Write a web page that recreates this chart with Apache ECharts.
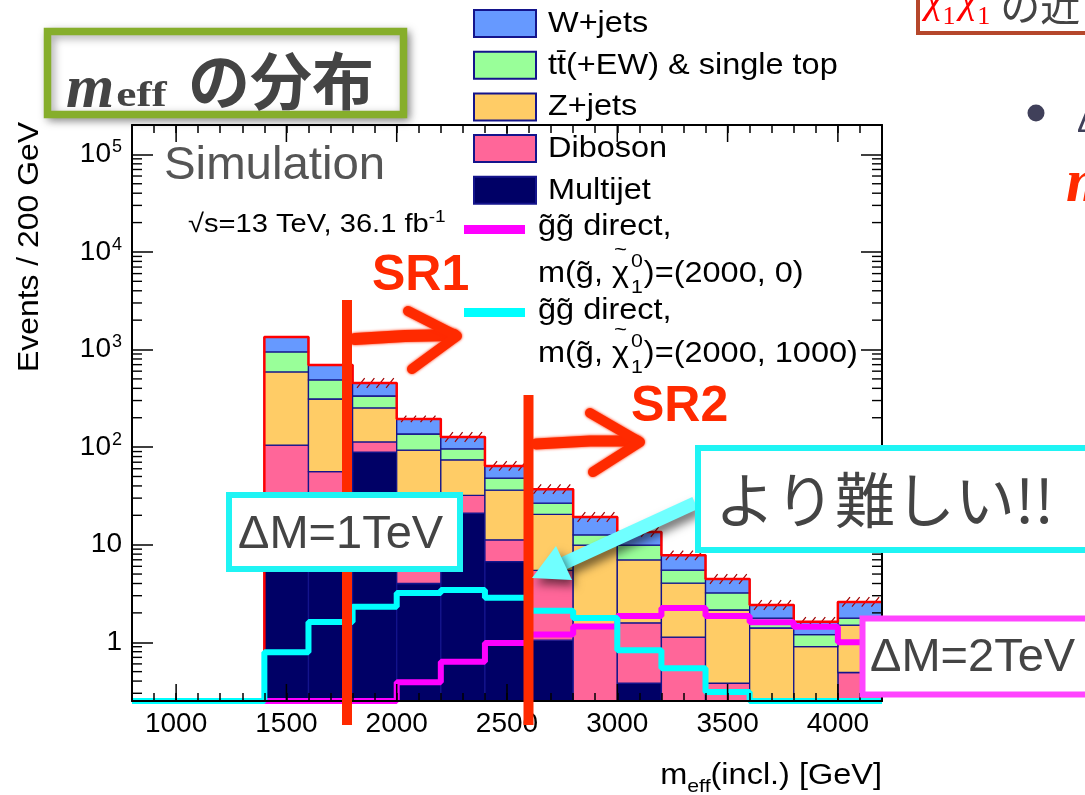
<!DOCTYPE html>
<html>
<head>
<meta charset="utf-8">
<script src="https://cdn.jsdelivr.net/npm/echarts@6/dist/echarts.min.js"></script>
<style>
  html, body { margin: 0; padding: 0; background: #ffffff; }
  #chart { width: 1085px; height: 795px; }
</style>
</head>
<body>
<div id="chart"></div>
<script>
// ---- histogram binning (GeV) ----
const BIN_EDGES = [1400, 1600, 1800, 2000, 2200, 2400, 2600, 2800, 3000, 3200, 3400, 3600, 3800, 4000, 4200];

// ---- background yields per 200 GeV bin (stack order: bottom -> top) ----
const MULTIJET = [18, 11, 89, 4.0, 21, 6.7, 1.05, 0, 0.38, 0, 0, 0, 0, 0];
const DIBOSON  = [87, 45, 24, 2.2, 11, 4.5, 4.4, 1.5, 1.2, 1.13, 0.38, 0, 0, 0.49];
const ZJETS    = [484, 255, 139, 87, 42, 25, 15, 8.4, 5.4, 2.9, 1.76, 1.40, 0.90, 1.01];
const TTBAR    = [355, 177, 82, 43, 22, 12, 6.2, 2.7, 2.9, 1.45, 1.06, 0.37, 0.30, 0.27];
const WJETS    = [399, 205, 120, 58, 31, 16, 10.4, 6.6, 3.6, 2.3, 1.25, 0.64, 0.42, 0.82];
// relative uncertainty of the total background (hatched band)
const TOTAL_REL_ERR = [0, 0, 0.12, 0.08, 0.12, 0.12, 0.12, 0.12, 0.12, 0.12, 0.12, 0.12, 0.12, 0.12];

// ---- signal yields ----
const SIG_2000_0    = [0, 0, 0, 0.39, 0.63, 0.98, 1.2, 1.45, 1.86, 2.25, 1.86, 1.6, 1.44, 1.0];
const SIG_2000_1000 = [0.79, 1.61, 2.31, 3.2, 3.43, 2.85, 2.1, 1.77, 0.83, 0.54, 0.31, 0, 0, 0];

// ---- axes ----
const X_TICK_LABELS = [1000, 1500, 2000, 2500, 3000, 3500, 4000];
const X_MIN = 800, X_MAX = 4200;
const Y_MIN = 0.25, Y_MAX = 2e5;

const FONT  = "'Liberation Sans', Arial, Helvetica, sans-serif";
const SERIF = "'Liberation Serif', 'DejaVu Serif', serif";
const JP    = "'Noto Sans CJK JP', sans-serif";
const GREY  = '#444444';
const RED   = '#ff2a00';
const WIDE  = 1.12;   // horizontal stretch of the plot lettering

const STACK = [
  { name: 'Multijet', values: MULTIJET, color: '#000066' },
  { name: 'Diboson', values: DIBOSON, color: '#ff6699' },
  { name: 'Z+jets', values: ZJETS, color: '#ffcc66' },
  { name: 'tt\u0304(+EW) & single top', values: TTBAR, color: '#99ff99' },
  { name: 'W+jets', values: WJETS, color: '#6699ff' }
];

// ---- stacked histogram as rectangles ----
const cum = BIN_EDGES.slice(0, -1).map(() => 0);
const stackSeries = STACK.map(comp => {
  const data = [];
  comp.values.forEach((v, i) => {
    const lo = cum[i], hi = lo + v;
    cum[i] = hi;
    if (v > 0 && hi > Y_MIN) data.push([BIN_EDGES[i], BIN_EDGES[i + 1], Math.max(lo, Y_MIN), hi]);
  });
  return {
    type: 'custom', name: comp.name, z: 2, silent: true,
    encode: { x: [0, 1], y: [2, 3] },
    data,
    renderItem(params, api) {
      const a = api.coord([api.value(0), api.value(3)]);
      const b = api.coord([api.value(1), api.value(2)]);
      return {
        type: 'rect',
        shape: { x: a[0], y: a[1], width: b[0] - a[0], height: b[1] - a[1] },
        style: { fill: comp.color, stroke: '#14148c', lineWidth: 1.3 }
      };
    }
  };
});
const TOTAL = cum.slice();

// hatched uncertainty marks around the total
const hatchSeries = {
  type: 'custom', z: 3, silent: true,
  encode: { x: [0, 1], y: 2 },
  data: TOTAL.map((t, i) => [BIN_EDGES[i], BIN_EDGES[i + 1], t, TOTAL_REL_ERR[i]]).filter(d => d[3] > 0),
  renderItem(params, api) {
    const x0 = api.value(0), x1 = api.value(1), t = api.value(2), e = api.value(3);
    const pT = api.coord([x0, t * (1 + e)]);
    const pB = api.coord([x1, t / (1 + e)]);
    const w = pB[0] - pT[0], h = pB[1] - pT[1];
    const children = [];
    for (let k = 0; k < 4; k++) {
      const xs = pT[0] + w * (0.1 + k * 0.22);
      children.push({ type: 'line', shape: { x1: xs, y1: pB[1], x2: xs + h * 0.8, y2: pT[1] },
        style: { stroke: '#a00000', lineWidth: 1.2 } });
    }
    return { type: 'group', children };
  }
};

// step data for line series: value held from each left edge to the next
function stepData(values, startAt) {
  const d = [[startAt, Y_MIN]];
  values.forEach((v, i) => d.push([BIN_EDGES[i], Math.max(v, Y_MIN)]));
  d.push([BIN_EDGES[BIN_EDGES.length - 1], Math.max(values[values.length - 1], Y_MIN)]);
  return d;
}

const outlineSeries = {
  type: 'line', step: 'end', z: 3, silent: true, symbol: 'none',
  data: stepData(TOTAL, BIN_EDGES[0]),
  lineStyle: { color: '#ff0000', width: 2.5 }
};
const sigMagenta = {
  type: 'line', step: 'end', z: 4, silent: true, symbol: 'none',
  data: stepData(SIG_2000_0, X_MIN),
  lineStyle: { color: '#ff00ff', width: 6, cap: 'butt' }
};
const sigCyan = {
  type: 'line', step: 'end', z: 5, silent: true, symbol: 'none',
  data: stepData(SIG_2000_1000, X_MIN),
  lineStyle: { color: '#00ffff', width: 6, cap: 'butt' }
};

// long ticks at labelled x values (bottom and top of frame)
const xMajorTicks = {
  type: 'custom', z: 11, silent: true,
  encode: { x: 0, y: 1 },
  data: X_TICK_LABELS.map(v => [v, Y_MIN]),
  renderItem(params, api) {
    const b = api.coord([api.value(0), Y_MIN]);
    const t = api.coord([api.value(0), Y_MAX]);
    const st = { stroke: '#000', lineWidth: 1.5 };
    return { type: 'group', children: [
      { type: 'line', shape: { x1: b[0], y1: b[1], x2: b[0], y2: b[1] - 17 }, style: st },
      { type: 'line', shape: { x1: t[0], y1: t[1], x2: t[0], y2: t[1] + 17 }, style: st }
    ] };
  }
};

// log minor ticks 2..9 x 10^k on left and right of frame
const Y_MINOR = [];
for (let k = -1; k <= 5; k++) for (let m = 2; m <= 9; m++) {
  const v = m * Math.pow(10, k);
  if (v > Y_MIN && v < Y_MAX) Y_MINOR.push(v);
}
const yMinorTicks = {
  type: 'custom', z: 11, silent: true,
  encode: { x: 0, y: 1 },
  data: Y_MINOR.map(v => [X_MIN, v]),
  renderItem(params, api) {
    const l = api.coord([X_MIN, api.value(1)]);
    const r = api.coord([X_MAX, api.value(1)]);
    const st = { stroke: '#000', lineWidth: 1.4 };
    return { type: 'group', children: [
      { type: 'line', shape: { x1: l[0], y1: l[1], x2: l[0] + 10, y2: l[1] }, style: st },
      { type: 'line', shape: { x1: r[0], y1: r[1], x2: r[0] - 10, y2: r[1] }, style: st }
    ] };
  }
};

function xAxisDef(pos, showLabel) {
  return {
    type: 'value', min: X_MIN, max: X_MAX, interval: 100, position: pos, z: 10,
    axisLine: { show: true, onZero: false, lineStyle: { color: '#000', width: 2 } },
    axisTick: { show: true, inside: true, length: 8, lineStyle: { color: '#000', width: 1.5 } },
    axisLabel: {
      show: showLabel, margin: 9, fontSize: 28, fontFamily: FONT, color: '#000',
      formatter: v => (X_TICK_LABELS.indexOf(v) >= 0 ? String(v) : '')
    },
    splitLine: { show: false }
  };
}
function yAxisDef(pos, showLabel) {
  return {
    type: 'log', logBase: 10, min: Y_MIN, max: Y_MAX, position: pos, z: 10,
    axisLine: { show: true, onZero: false, lineStyle: { color: '#000', width: 2 } },
    axisTick: { show: true, inside: true, length: 21, lineStyle: { color: '#000', width: 1.5 } },
    axisLabel: {
      show: showLabel, margin: 10, fontSize: 28, fontFamily: FONT, color: '#000',
      formatter: v => {
        const lg = Math.log10(v), k = Math.round(lg);
        if (Math.abs(lg - k) > 1e-6) return '';
        if (k === 0) return '1';
        if (k === 1) return '10';
        return '10{s|' + k + '}';
      },
      rich: { s: { fontSize: 18, fontFamily: FONT, color: '#000', verticalAlign: 'top', padding: [0, 0, 14, 1] } }
    },
    splitLine: { show: false },
    minorTick: { show: false }
  };
}

// ---- text helpers ----
const mctx = document.createElement('canvas').getContext('2d');
function tw(text, size, family, weight, fstyle) {
  mctx.font = (fstyle || 'normal') + ' ' + (weight || 'normal') + ' ' + size + 'px ' + family;
  return mctx.measureText(text).width;
}
// a row of text pieces sharing one baseline
function run(x, baseline, parts, z) {
  const els = [];
  let cx = x;
  parts.forEach(p => {
    const family = p.family || FONT, weight = p.weight || 'normal', fstyle = p.fontStyle || 'normal';
    els.push({
      type: 'text', z: z || 100, x: cx, y: baseline + (p.dy || 0) - 0.31 * p.size,
      scaleX: p.scaleX || 1,
      style: { text: p.text, fontSize: p.size, fontFamily: family, fontWeight: weight, fontStyle: fstyle,
        fill: p.color || '#000', align: 'left', verticalAlign: 'middle' }
    });
    if (!p.noAdvance) cx += tw(p.text, p.size, family, weight, fstyle) * (p.scaleX || 1) + (p.gap || 0);
  });
  return els;
}
function runWidth(parts) {
  return parts.reduce((s, p) => s + (p.noAdvance ? 0 :
    tw(p.text, p.size, p.family || FONT, p.weight, p.fontStyle) * (p.scaleX || 1) + (p.gap || 0)), 0);
}

const G = [];

// axis titles
const xTitle = [{ text: 'm', size: 29, scaleX: WIDE }, { text: 'eff', size: 19, dy: 8, scaleX: WIDE },
  { text: '(incl.) [GeV]', size: 29, scaleX: WIDE }];
G.push(...run(882 - runWidth(xTitle), 785, xTitle));
G.push({ type: 'text', z: 100, x: 30, y: 122, rotation: Math.PI / 2, scaleX: 1.1,
  style: { text: 'Events / 200 GeV', fontSize: 29, fontFamily: FONT, fill: '#000', align: 'right', verticalAlign: 'middle' } });

// plot labels
G.push(...run(164, 181, [{ text: 'Simulation', size: 46, color: '#555555', scaleX: 1.03 }]));
G.push(...run(188, 233, [{ text: '\u221As=13 TeV, 36.1 fb', size: 26, scaleX: WIDE }, { text: '-1', size: 17, dy: -10, scaleX: WIDE }]));

// legend: stacked backgrounds
STACK.slice().reverse().forEach((c, i) => {
  const top = 10 + i * 41.7;
  G.push({ type: 'rect', z: 100, shape: { x: 474, y: top, width: 62, height: 27 },
    style: { fill: c.color, stroke: '#14148c', lineWidth: 2 } });
  G.push(...run(548, top + 23, [{ text: c.name, size: 29, scaleX: 1.12 }]));
});
// legend: signals
function sigLegend(y, color, baseA, baseB, masses) {
  G.push({ type: 'line', z: 100, shape: { x1: 464, y1: y, x2: 525, y2: y }, style: { stroke: color, lineWidth: 9 } });
  G.push(...run(538, baseA, [{ text: 'g\u0303g\u0303 direct,', size: 29, scaleX: 1.12 }]));
  const lead = 'm(g\u0303, ';
  const chiX = 538 + tw(lead, 29, FONT) * 1.12;
  const chiW = tw('\u03C7', 29, FONT) * 1.12;
  G.push(...run(538, baseB, [
    { text: lead, size: 29, scaleX: 1.12 },
    { text: '\u03C7', size: 29, scaleX: 1.12, gap: 2 },
    { text: '0', size: 19, dy: -15, noAdvance: true, scaleX: 1.12 },
    { text: '1', size: 19, dy: 11, gap: 1, scaleX: 1.12 },
    { text: ')=(' + masses + ')', size: 29, scaleX: 1.12 }
  ]));
  // tilde over chi
  G.push({ type: 'text', z: 100, x: chiX + chiW / 2, y: baseB - 33, scaleX: 1.12,
    style: { text: '~', fontSize: 20, fontFamily: FONT, fill: '#000', align: 'center', verticalAlign: 'middle' } });
}
sigLegend(229.5, '#ff00ff', 236, 283, '2000, 0');
sigLegend(312.5, '#00ffff', 320, 363, '2000, 1000');

// ---- slide annotations ----
// title box
G.push({ type: 'rect', z: 100, shape: { x: 47.5, y: 31.5, width: 356, height: 83 },
  style: { fill: '#fff', stroke: '#86ae2b', lineWidth: 7.5, shadowBlur: 8, shadowColor: 'rgba(0,0,0,0.35)', shadowOffsetX: 3, shadowOffsetY: 3 } });
G.push(...run(66, 110, [
  { text: 'm', size: 62, family: SERIF, weight: 'bold', fontStyle: 'italic', color: GREY, gap: 2 },
  { text: 'eff', size: 35, family: SERIF, weight: 'bold', color: GREY, dy: -2, scaleX: 1.3 }
], 101));
G.push({ type: 'text', z: 101, x: 188, y: 81,
  style: { text: 'の分布', fontSize: 62, fontFamily: JP, fontWeight: 'bold', fill: GREY, align: 'left', verticalAlign: 'middle' } });

// top-right heading box (continues off the page)
G.push({ type: 'rect', z: 100, shape: { x: 918, y: -20, width: 200, height: 53 },
  style: { fill: '#fff', stroke: '#b5472b', lineWidth: 4 } });
G.push(...run(925, 14, [
  { text: '\u03C7', size: 40, family: SERIF, fontStyle: 'italic', color: '#ff0000' },
  { text: '1', size: 26, family: SERIF, color: '#ff0000', dy: 11, gap: 4 },
  { text: '\u03C7', size: 40, family: SERIF, fontStyle: 'italic', color: '#ff0000' },
  { text: '1', size: 26, family: SERIF, color: '#ff0000', dy: 11, gap: 10 },
  { text: 'の近', size: 40, family: JP, color: GREY, dy: 4 }
], 101));
// bullet line (continues off the page)
G.push({ type: 'circle', z: 100, shape: { cx: 1036, cy: 113, r: 8.5 }, style: { fill: '#40405a' } });
G.push(...run(1077, 133, [{ text: '\u0394', size: 34, color: '#40405a' }]));
G.push(...run(1066, 204, [{ text: 'm', size: 62, family: SERIF, weight: 'bold', fontStyle: 'italic', color: RED }]));

// signal-region cut lines with hand-drawn arrows
const spray = { stroke: RED, lineCap: 'round', lineJoin: 'round', shadowBlur: 3, shadowColor: RED };
G.push({ type: 'line', z: 101, shape: { x1: 347, y1: 300, x2: 347, y2: 725 }, style: { stroke: RED, lineWidth: 10 } });
G.push({ type: 'polyline', z: 101, shape: { points: [[355, 339], [405, 336], [454, 335]] }, style: Object.assign({ lineWidth: 12 }, spray) });
G.push({ type: 'polyline', z: 101, shape: { points: [[408, 311], [457, 336], [412, 369]] }, style: Object.assign({ lineWidth: 10, fill: null }, spray) });
G.push(...run(372, 292, [{ text: 'SR1', size: 50, weight: 'bold', color: RED }], 101));

G.push({ type: 'line', z: 101, shape: { x1: 528.5, y1: 395, x2: 528.5, y2: 725 }, style: { stroke: RED, lineWidth: 10 } });
G.push({ type: 'polyline', z: 101, shape: { points: [[536, 444], [590, 441], [637, 441]] }, style: Object.assign({ lineWidth: 11 }, spray) });
G.push({ type: 'polyline', z: 101, shape: { points: [[590, 413], [640, 442], [593, 472]] }, style: Object.assign({ lineWidth: 10, fill: null }, spray) });
G.push(...run(631, 423, [{ text: 'SR2', size: 50, weight: 'bold', color: RED }], 101));

// mass-splitting boxes
G.push({ type: 'rect', z: 102, shape: { x: 229, y: 495, width: 231, height: 74 },
  style: { fill: '#fff', stroke: '#1ff4f4', lineWidth: 6 } });
G.push(...run(238, 550, [{ text: '\u0394M=1TeV', size: 47, color: GREY }], 105));

G.push({ type: 'rect', z: 102, shape: { x: 862.5, y: 618.5, width: 300, height: 76 },
  style: { fill: '#fff', stroke: '#ff44ff', lineWidth: 6 } });
G.push(...run(870, 673, [{ text: '\u0394M=2TeV', size: 47, color: GREY }], 105));

// callout pointing at the compressed signal
G.push({ type: 'line', z: 102, shape: { x1: 695, y1: 503, x2: 560, y2: 565 },
  style: { stroke: '#70ffff', lineWidth: 13, shadowBlur: 10, shadowColor: 'rgba(0,0,0,0.55)', shadowOffsetX: 4, shadowOffsetY: 6 } });
G.push({ type: 'polygon', z: 102, shape: { points: [[532, 578], [556, 546], [572, 580]] },
  style: { fill: '#70ffff', shadowBlur: 10, shadowColor: 'rgba(0,0,0,0.55)', shadowOffsetX: 4, shadowOffsetY: 6 } });
G.push({ type: 'rect', z: 103, shape: { x: 698, y: 448, width: 420, height: 102 },
  style: { fill: '#fff', stroke: '#1ff4f4', lineWidth: 6 } });
G.push({ type: 'text', z: 105, x: 715, y: 500,
  style: { text: 'より難しい!!', fontSize: 60, fontFamily: JP, fill: GREY, align: 'left', verticalAlign: 'middle' } });

const chart = echarts.init(document.getElementById('chart'), null, { renderer: 'canvas' });
chart.setOption({
  animation: false,
  backgroundColor: '#ffffff',
  grid: { left: 132, top: 125, width: 750, height: 576, containLabel: false },
  xAxis: [xAxisDef('bottom', true), xAxisDef('top', false)],
  yAxis: [yAxisDef('left', true), yAxisDef('right', false)],
  series: [...stackSeries, hatchSeries, outlineSeries, sigMagenta, sigCyan, xMajorTicks, yMinorTicks],
  graphic: { elements: G }
});
</script>
</body>
</html>
